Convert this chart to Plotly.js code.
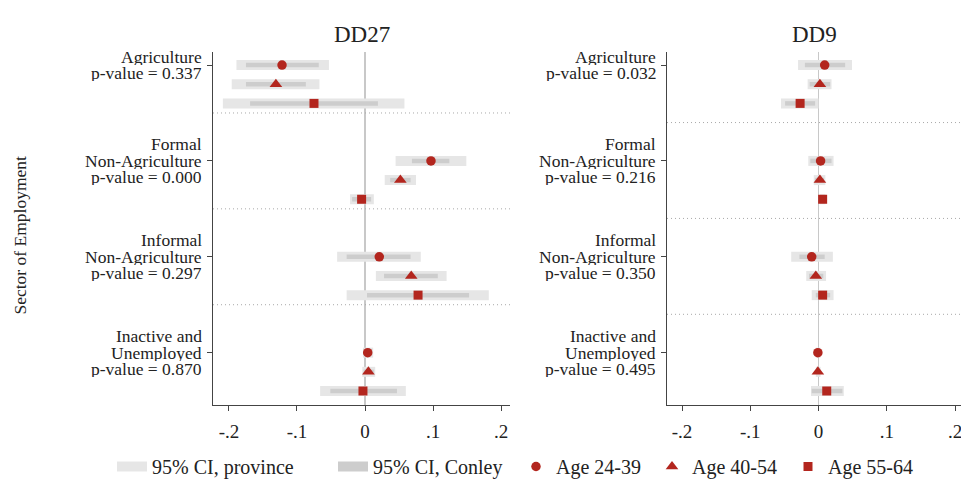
<!DOCTYPE html>
<html><head><meta charset="utf-8">
<script src="https://cdn.plot.ly/plotly-3.0.1.min.js"></script>
<style>html,body{margin:0;padding:0;background:#fff;overflow:hidden;}#chart{width:961px;height:480px;}</style>
</head><body><div id="chart"></div>
<script>
// ---- data ----
const panels = ["DD27", "DD9"];
const sectors = ["Agriculture", "Formal Non-Agriculture", "Informal Non-Agriculture", "Inactive and Unemployed"];
const ageGroups = ["Age 24-39", "Age 40-54", "Age 55-64"];
const labels27 = [["Agriculture","p-value = 0.337"],["Formal","Non-Agriculture","p-value = 0.000"],["Informal","Non-Agriculture","p-value = 0.297"],["Inactive and","Unemployed","p-value = 0.870"]];
const labels9  = [["Agriculture","p-value = 0.032"],["Formal","Non-Agriculture","p-value = 0.216"],["Informal","Non-Agriculture","p-value = 0.350"],["Inactive and","Unemployed","p-value = 0.495"]];
// estimates ordered sector-major, age within sector
const est27     = [-0.122,-0.131,-0.075,  0.097,0.052,-0.005,  0.021,0.068,0.078,  0.004,0.005,-0.003];
const provLo27  = [-0.189,-0.196,-0.209,  0.045,0.029,-0.022, -0.041,0.016,-0.027, -0.003,-0.004,-0.066];
const provHi27  = [-0.053,-0.067, 0.058,  0.149,0.075, 0.013,  0.082,0.120,0.182,  0.012,0.015, 0.060];
const conLo27   = [-0.175,-0.175,-0.169,  0.069,0.037,-0.019, -0.027,0.028,0.003, -0.001,-0.002,-0.051];
const conHi27   = [-0.068,-0.087, 0.019,  0.124,0.067, 0.009,  0.067,0.107,0.153,  0.010,0.013, 0.047];
const est9      = [ 0.009, 0.002,-0.027,  0.003,0.002,0.006, -0.010,-0.004,0.006, -0.001,-0.001,0.012];
const provLo9   = [-0.030,-0.016,-0.055, -0.015,-0.007,0.002, -0.040,-0.018,-0.010, -0.004,-0.004,-0.011];
const provHi9   = [ 0.049, 0.019, 0.000,  0.022,0.010,0.010,  0.021,0.011,0.022,  0.003,0.003,0.037];
const conLo9    = [-0.020,-0.013,-0.049, -0.012,-0.005,0.003, -0.028,-0.014,-0.004, -0.003,-0.003,-0.010];
const conHi9    = [ 0.039, 0.017,-0.005,  0.019,0.008,0.009,  0.009,0.007,0.017,  0.002,0.002,0.035];
const xTickVals = [-0.2,-0.1,0,0.1,0.2];
const xTickText = ["-.2","-.1","0",".1",".2"];
const sep27 = [2.5, 7.5, 12.5];
const sep9  = [3, 8, 13];

// ---- style ----
const FONT = "Liberation Serif, Times New Roman, serif";
const RED = "#b3261e";
const PROV = "#e6e6e6";
const CON = "#cdcdcd";
const symbols = ["circle","triangle-up","square"];
const msizes = [9.5, 11, 9];

function ypos(i){ return Math.floor(i/3)*5 + (i%3); }

function ciTrace(lo, hi, color, width, xa, ya){
  const x=[], y=[];
  lo.forEach((l,i)=>{ x.push(l, hi[i], null); y.push(ypos(i), ypos(i), null); });
  return {type:"scatter", mode:"lines", x, y, xaxis:xa, yaxis:ya, line:{color, width}, showlegend:false, hoverinfo:"skip"};
}
function markerTraces(est, xa, ya, showLeg){
  return ageGroups.map((name,a)=>{
    const x=[], y=[];
    est.forEach((v,i)=>{ if(i%3===a){ x.push(v); y.push(ypos(i)); } });
    return {type:"scatter", mode:"markers", name, x, y, xaxis:xa, yaxis:ya,
      marker:{symbol:symbols[a], size:msizes[a], color:RED}, showlegend:showLeg, legend:"legend2"};
  });
}

const data = [
  ciTrace(provLo27, provHi27, PROV, 10, "x", "y"),
  ciTrace(conLo27, conHi27, CON, 4.5, "x", "y"),
  ciTrace(provLo9, provHi9, PROV, 10, "x2", "y2"),
  ciTrace(conLo9, conHi9, CON, 4.5, "x2", "y2"),
  // legend keys for CI types
  {type:"scatter", mode:"lines", name:"95% CI, province", x:[null], y:[null], line:{color:PROV, width:14}, showlegend:true, legend:"legend"},
  {type:"scatter", mode:"lines", name:"95% CI, Conley", x:[null], y:[null], line:{color:CON, width:14}, showlegend:true, legend:"legend"},
  ...markerTraces(est27, "x", "y", true),
  ...markerTraces(est9, "x2", "y2", false)
];

const yRange = [17.73, -0.68];
function xax(domain, range){
  return {domain, range, tickvals:xTickVals, ticktext:xTickText, ticks:"outside", ticklen:5, tickcolor:"#444",
    showline:true, linecolor:"#444", linewidth:1, showgrid:false, zeroline:true, zerolinecolor:"#c8c8c8", zerolinewidth:1.5,
    tickfont:{family:FONT, size:19, color:"#222"}, ticklabelstandoff:4, ticklabeloverflow:"allow", automargin:false, fixedrange:true};
}
function yax(anchor){
  return {anchor, range:yRange, tickvals:[0,5,10,15], ticks:"outside", ticklen:5, tickcolor:"#444",
    showticklabels:false, showline:true, linecolor:"#444", linewidth:1, showgrid:false, zeroline:false, automargin:false, fixedrange:true};
}

const shapes = [];
const sepLine = {color:"#a8a8a8", width:1, dash:"1px,3px"};
sep27.forEach(v=>shapes.push({type:"line", xref:"x domain", yref:"y", x0:0, x1:1, y0:v, y1:v, line:sepLine}));
sep9.forEach(v=>shapes.push({type:"line", xref:"x2 domain", yref:"y2", x0:0, x1:1, y0:v, y1:v, line:sepLine}));

const annotations = [];
const LH = 16.5;
[[labels27,"x domain","y"],[labels9,"x2 domain","y2"]].forEach(([labs, xr, yr])=>{
  labs.forEach((lines,g)=>{
    const n = lines.length;
    lines.forEach((t,i)=>{
      annotations.push({xref:xr, yref:yr, x:0, y:g*5, xanchor:"right", yanchor:"middle", xshift:-9, height:16, valign:"middle",
        yshift:((n-1)/2 - i)*LH, text:t, showarrow:false, font:{family:FONT, size:17.5, color:"#222"}});
    });
  });
});
panels.forEach((p,k)=>{
  annotations.push({xref:(k===0?"x domain":"x2 domain"), yref:"paper", x:0.5, y:1, yshift:18, xanchor:"center", yanchor:"middle",
    text:p, showarrow:false, font:{family:FONT, size:23, color:"#222"}});
});
annotations.push({xref:"paper", yref:"paper", x:20/961, y:0.48, xanchor:"center", yanchor:"middle", textangle:-90,
  text:"Sector of Employment", showarrow:false, font:{family:FONT, size:17.5, color:"#222"}});

const legY = -81/353;
const layout = {
  width:961, height:480, margin:{l:0, r:0, t:52, b:75, autoexpand:false},
  paper_bgcolor:"#fff", plot_bgcolor:"#fff", showlegend:true,
  xaxis: xax([213/961, 510/961], [-0.2235, 0.2132]),
  yaxis: yax("x"),
  xaxis2: xax([667/961, 1], [-0.222, 0.2087]),
  yaxis2: yax("x2"),
  shapes, annotations,
  legend:{orientation:"h", x:112/961, xanchor:"left", y:legY, yanchor:"bottom", font:{family:FONT, size:20, color:"#222"},
    bgcolor:"rgba(0,0,0,0)", entrywidth:176, itemclick:false, itemdoubleclick:false},
  legend2:{orientation:"h", x:516/961, xanchor:"left", y:legY, yanchor:"bottom", font:{family:FONT, size:20, color:"#222"},
    bgcolor:"rgba(0,0,0,0)", entrywidth:91, itemclick:false, itemdoubleclick:false}
};
Plotly.newPlot("chart", data, layout, {displayModeBar:false, staticPlot:true});
</script></body></html>
